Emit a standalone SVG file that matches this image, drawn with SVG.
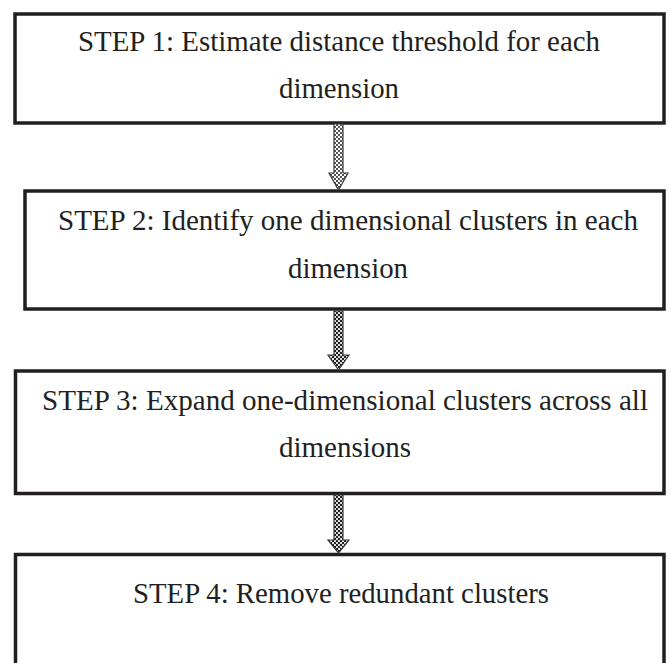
<svg xmlns="http://www.w3.org/2000/svg" width="671" height="663" viewBox="0 0 671 663">
<defs>
<style>
.box{fill:#fff;stroke:#231f20;stroke-width:3.5}
.t{font-family:"Liberation Serif","Times New Roman",serif;font-size:30px;fill:#231f20;text-anchor:middle}
.arr{stroke:#3a3a3a;stroke-width:1.2;stroke-linejoin:miter}
</style>
<pattern id="chk" width="4" height="4" patternUnits="userSpaceOnUse">
<rect width="4" height="4" fill="#fff"/>
<rect width="2" height="2" fill="#555"/>
<rect x="2" y="2" width="2" height="2" fill="#555"/>
</pattern>
<pattern id="chk2" width="4" height="4" patternUnits="userSpaceOnUse">
<rect width="4" height="4" fill="#ddd"/>
<rect width="2" height="2" fill="#222"/>
<rect x="2" y="2" width="2" height="2" fill="#222"/>
</pattern>
</defs>
<g id="step1">
<rect class="box" x="15" y="14" width="649" height="109"/>
<text class="t" x="339" y="51" textLength="522" lengthAdjust="spacingAndGlyphs">STEP 1: Estimate distance threshold for each</text>
<text class="t" x="339" y="98" textLength="120" lengthAdjust="spacingAndGlyphs">dimension</text>
</g>
<g id="step2">
<rect class="box" x="25" y="191" width="639" height="118"/>
<text class="t" x="348" y="230" textLength="580" lengthAdjust="spacingAndGlyphs">STEP 2: Identify one dimensional clusters in each</text>
<text class="t" x="348" y="278" textLength="120" lengthAdjust="spacingAndGlyphs">dimension</text>
</g>
<g id="step3">
<rect class="box" x="15.5" y="371" width="648.5" height="122.5"/>
<text class="t" x="345" y="410" textLength="606" lengthAdjust="spacingAndGlyphs">STEP 3: Expand one-dimensional clusters across all</text>
<text class="t" x="345" y="457" textLength="132" lengthAdjust="spacingAndGlyphs">dimensions</text>
</g>
<g id="step4">
<rect class="box" x="15.5" y="554.5" width="648.5" height="120"/>
<text class="t" x="341" y="603" textLength="416" lengthAdjust="spacingAndGlyphs">STEP 4: Remove redundant clusters</text>
</g>
<g id="connectors">
<path class="arr" fill="url(#chk)" d="M334,124 L343,124 L343,173 L348,173 L338.5,190 L329,173 L334,173 Z"/>
<path class="arr" fill="url(#chk2)" d="M334,311 L343,311 L343,355 L349,355 L338.5,370 L328,355 L334,355 Z"/>
<path class="arr" fill="url(#chk2)" d="M334,495 L343,495 L343,540 L349,540 L338.5,553 L328,540 L334,540 Z"/>
</g>
</svg>
